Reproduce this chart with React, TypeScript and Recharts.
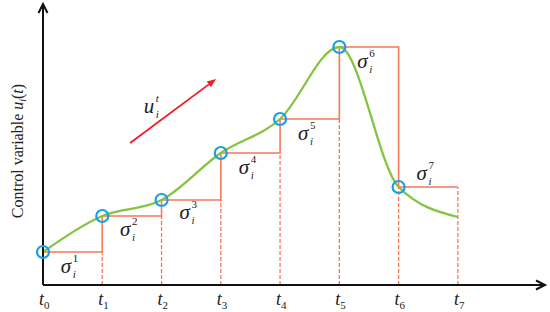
import {
  ComposedChart,
  Line,
  Scatter,
  XAxis,
  YAxis,
  ReferenceLine,
  ReferenceDot,
} from "recharts";

// time nodes t0..t7
const nodes = [0, 1, 2, 3, 4, 5, 6, 7];
const nodeLabels = ["0", "1", "2", "3", "4", "5", "6", "7"];
// control variable curve u_i(t) sampled at the nodes (last one is the curve end)
const curveU = [3.3, 6.9, 8.5, 13.2, 16.6, 23.8, 9.8, 6.8];
// piecewise-constant parameters sigma_i^k (held until the next node)
const stepU = [3.3, 6.9, 8.5, 13.2, 16.6, 23.8, 9.8, 9.8];
const sigmaNames = ["1", "2", "3", "4", "5", "6", "7"];
// trend arrow u_i^t
const trendFrom = { t: 1.47, u: 14.2 };
const trendTo = { t: 2.92, u: 20.6 };

const X_MAX = 8.47;
const Y_MAX = 28.1;

const GREEN = "#84c441";
const BLUE = "#1a9fe2";
const SALMON = "#f5785a";
const RED = "#ee1c24";
const FONT = "'Liberation Serif', 'Times New Roman', serif";

const data = nodes.map((t, i) => ({ t, u: curveU[i], step: stepU[i] }));
const circles = nodes.slice(0, 7).map((t, i) => ({ t, u: curveU[i] }));
const sigmaDy = [16, 15, 14, 16, 16, 16, -12];

function arrowShape(color: string, width: number, len: number, half: number, filled: boolean) {
  return (p: any) => {
    const { x1, y1, x2, y2 } = p;
    const a = Math.atan2(y2 - y1, x2 - x1);
    const bx = x2 - len * Math.cos(a);
    const by = y2 - len * Math.sin(a);
    const lx = bx + half * Math.sin(a);
    const ly = by - half * Math.cos(a);
    const rx = bx - half * Math.sin(a);
    const ry = by + half * Math.cos(a);
    return (
      <g>
        <line x1={x1} y1={y1} x2={filled ? bx : x2} y2={filled ? by : y2} stroke={color} strokeWidth={width} />
        {filled ? (
          <polygon points={`${x2},${y2} ${lx},${ly} ${rx},${ry}`} fill={color} />
        ) : (
          <polyline points={`${lx},${ly} ${x2},${y2} ${rx},${ry}`} fill="none" stroke={color} strokeWidth={width} />
        )}
      </g>
    );
  };
}

function NodeTick(props: any) {
  const { x, y, payload } = props;
  return (
    <text x={x - 4} y={y + 12} fontFamily={FONT} fontStyle="italic" fontSize={18} fill="#222">
      t
      <tspan fontSize={11} fontStyle="normal" dy={4}>
        {nodeLabels[nodes.indexOf(payload.value)]}
      </tspan>
    </text>
  );
}

function Sigma({ cx, cy, k }: { cx: number; cy: number; k: string }) {
  return (
    <g fontFamily={FONT} fill="#222">
      <text x={cx - 10} y={cy + 5} fontSize={21} fontStyle="italic">σ</text>
      <text x={cx + 2} y={cy - 6} fontSize={11}>{k}</text>
      <text x={cx + 2} y={cy + 10} fontSize={11} fontStyle="italic">i</text>
    </g>
  );
}

function YLabel() {
  return (
    <text
      transform="translate(23,151) rotate(-90)"
      textAnchor="middle"
      fontFamily={FONT}
      fontSize={16}
      fill="#222"
    >
      Control variable <tspan fontStyle="italic">u</tspan>
      <tspan fontStyle="italic" fontSize={10} dy={3}>i</tspan>
      <tspan dy={-3}>(</tspan>
      <tspan fontStyle="italic">t</tspan>)
    </text>
  );
}

export default function App() {
  return (
    <div style={{ width: 550, height: 312, background: "#fff" }}>
      <style>{"body{margin:0}"}</style>
      <ComposedChart
        width={550}
        height={312}
        data={data}
        margin={{ top: 4, right: 5, bottom: 0, left: 0 }}
      >
        <XAxis
          dataKey="t"
          type="number"
          domain={[0, X_MAX]}
          ticks={nodes}
          axisLine={false}
          tickLine={false}
          tick={<NodeTick />}
          height={27}
          interval={0}
        />
        <YAxis
          type="number"
          domain={[0, Y_MAX]}
          width={43}
          tick={false}
          tickLine={false}
          axisLine={false}
          label={<YLabel />}
        />

        {nodes.slice(1).map((t) => (
          <ReferenceLine
            key={"d" + t}
            segment={[
              { x: t, y: 0 },
              { x: t, y: Math.min(stepU[t - 1], stepU[t]) },
            ]}
            stroke={SALMON}
            strokeWidth={1.3}
            strokeDasharray="4 2"
          />
        ))}

        <Line
          dataKey="step"
          type="stepAfter"
          stroke={SALMON}
          strokeWidth={1.6}
          dot={false}
          isAnimationActive={false}
        />
        <Line
          dataKey="u"
          type="monotone"
          stroke={GREEN}
          strokeWidth={2.3}
          dot={false}
          isAnimationActive={false}
        />

        <ReferenceLine
          segment={[
            { x: 0, y: 0 },
            { x: X_MAX, y: 0 },
          ]}
          shape={arrowShape("#111", 2, 9, 4.5, false)}
        />
        <ReferenceLine
          segment={[
            { x: 0, y: 0 },
            { x: 0, y: Y_MAX },
          ]}
          shape={arrowShape("#111", 2, 9, 4.5, false)}
        />
        <ReferenceLine
          segment={[
            { x: trendFrom.t, y: trendFrom.u },
            { x: trendTo.t, y: trendTo.u },
          ]}
          shape={arrowShape(RED, 1.8, 9, 3.5, true)}
        />

        <ReferenceDot
          x={1.82}
          y={17.6}
          r={0}
          shape={(p: any) => (
            <g fontFamily={FONT} fill="#222">
              <text x={p.cx - 7} y={p.cy + 4} fontSize={21} fontStyle="italic">u</text>
              <text x={p.cx + 5} y={p.cy - 7} fontSize={11} fontStyle="italic">t</text>
              <text x={p.cx + 5} y={p.cy + 9} fontSize={11} fontStyle="italic">i</text>
            </g>
          )}
        />

        {sigmaNames.map((k, i) => (
          <ReferenceDot
            key={"s" + k}
            x={i + 0.47}
            y={stepU[i]}
            r={0}
            shape={(p: any) => <Sigma cx={p.cx} cy={p.cy + sigmaDy[i]} k={k} />}
          />
        ))}

        <Scatter
          data={circles}
          dataKey="u"
          isAnimationActive={false}
          shape={(p: any) => (
            <circle cx={p.cx} cy={p.cy} r={6} fill="none" stroke={BLUE} strokeWidth={2.2} />
          )}
        />
      </ComposedChart>
    </div>
  );
}
